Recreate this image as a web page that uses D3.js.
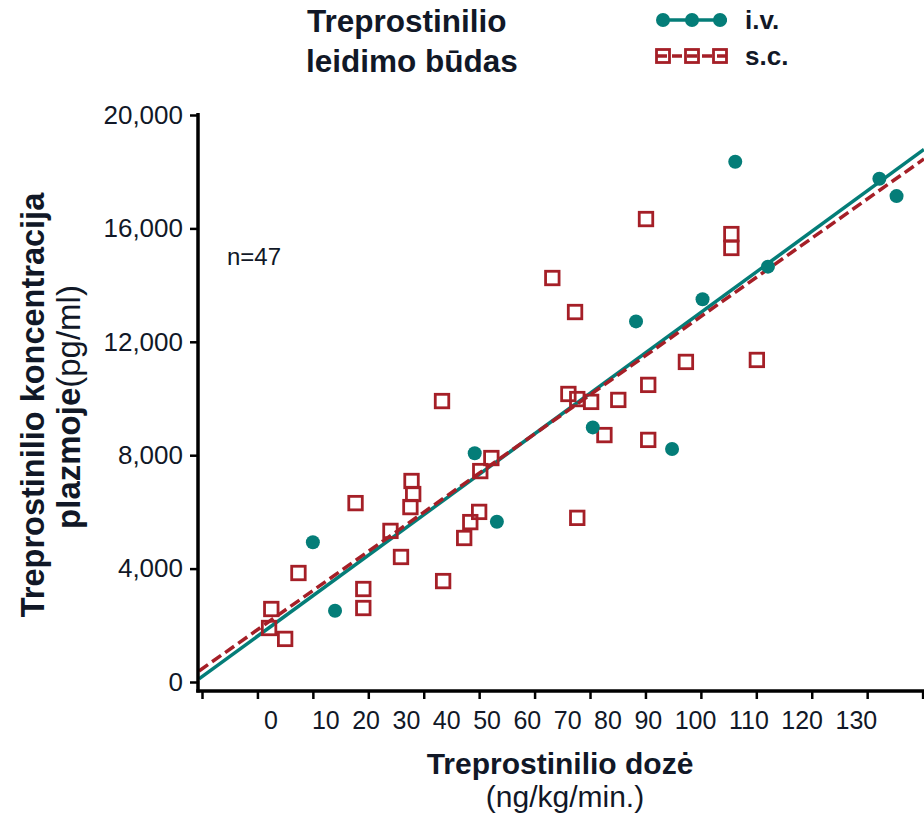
<!DOCTYPE html>
<html>
<head>
<meta charset="utf-8">
<script src="https://cdn.jsdelivr.net/npm/d3@7"></script>
<style>
  body { margin: 0; background: #fff; }
  svg { font-family: "Liberation Sans", Arial, sans-serif; }
</style>
</head>
<body>
<div id="chart"></div>
<script>
// data: dose (ng/kg/min) and plasma concentration (pg/ml)
var ivDose = [20.0, 24.0, 49.2, 53.2, 70.5, 78.3, 84.8, 90.3, 96.2, 102.1, 122.2, 125.3];
var ivConc = [4930, 2515, 8070, 5650, 8980, 12720, 8220, 13500, 18350, 14650, 17750, 17140];

var scDose = [12.5, 12.1, 15.0, 17.4, 27.7, 29.1, 29.1, 34.0, 35.9, 37.6, 37.8, 38.1, 43.3, 43.5, 47.3, 48.4, 50.0,
              50.2, 52.2, 63.2, 67.3, 66.1, 67.7, 70.2, 72.6, 75.1, 80.5, 80.5, 80.1, 87.3, 95.5, 95.5, 100.1, 67.7];
var scConc = [2575, 1905, 1520, 3845, 6310, 3280, 2610, 5330, 4410, 6170, 7090, 6630, 9910, 3560, 5080, 5640, 6000,
              7440, 7900, 14250, 13050, 10160, 9980, 9880, 8710, 9950, 10480, 8540, 16330, 11290, 15800, 15310, 11360, 5790];

// fitted lines [intercept, slope]
var ivFit = [185, 142.8];
var scFit = [462, 138.1];

var xTickValues = [0, 10, 20, 30, 40, 50, 60, 70, 80, 90, 100, 110, 120, 130];
var xTickLabels = ["0", "10", "20", "30", "40", "50", "60", "70", "80", "90", "100", "110", "120", "130"];
var yTickValues = [0, 4000, 8000, 12000, 16000, 20000];

var teal = "#047d78", red = "#a51f27", ink = "#111827";

var width = 924, height = 818;
var axisX = 198, axisY = 691;

var svg = d3.select("#chart").append("svg")
  .attr("width", width)
  .attr("height", height);

var x = d3.scaleLinear().domain([0, 130]).range([202, 922.6]);
var y = d3.scaleLinear().domain([0, 20000]).range([682, 115]);

// regression lines
var xs = [x.invert(axisX + 1), x.invert(width)];
var line = d3.line().x(d => x(d[0])).y(d => y(d[1]));

svg.append("path")
  .datum(xs.map(v => [v, ivFit[0] + ivFit[1] * v]))
  .attr("d", line)
  .attr("fill", "none")
  .attr("stroke", teal)
  .attr("stroke-width", 3.5);

svg.append("path")
  .datum(xs.map(v => [v, scFit[0] + scFit[1] * v]))
  .attr("d", line)
  .attr("fill", "none")
  .attr("stroke", red)
  .attr("stroke-width", 3.5)
  .attr("stroke-dasharray", "11,5");

// points
var sq = 13.5;
svg.selectAll(".sc")
  .data(scDose.map((d, i) => [d, scConc[i]]))
  .enter()
  .append("rect")
  .attr("class", "sc")
  .attr("x", d => x(d[0]) - sq / 2)
  .attr("y", d => y(d[1]) - sq / 2)
  .attr("width", sq)
  .attr("height", sq)
  .attr("fill", "none")
  .attr("stroke", red)
  .attr("stroke-width", 2.8);

svg.selectAll(".iv")
  .data(ivDose.map((d, i) => [d, ivConc[i]]))
  .enter()
  .append("circle")
  .attr("class", "iv")
  .attr("cx", d => x(d[0]))
  .attr("cy", d => y(d[1]))
  .attr("r", 7)
  .attr("fill", teal);

// y axis
var yAxis = svg.append("g")
  .attr("transform", "translate(" + axisX + ",0)")
  .call(d3.axisLeft(y).tickValues(yTickValues).tickFormat(d3.format(",")).tickSize(8).tickPadding(7));
yAxis.select(".domain").remove();
yAxis.selectAll(".tick line").attr("stroke", "#000").attr("stroke-width", 2.5);
yAxis.selectAll(".tick text").attr("fill", ink).style("font-size", "26px");

// x axis, ticks only; labels laid out as one row below
var xAxis = svg.append("g")
  .attr("transform", "translate(0," + axisY + ")")
  .call(d3.axisBottom(x).tickValues(xTickValues).tickFormat("").tickSize(8));
xAxis.select(".domain").remove();
xAxis.selectAll(".tick line").attr("stroke", "#000").attr("stroke-width", 2.5);

svg.append("line")
  .attr("x1", axisX).attr("x2", axisX)
  .attr("y1", y(20000) - 2).attr("y2", axisY + 1.5)
  .attr("stroke", "#000").attr("stroke-width", 3.5);
svg.append("line")
  .attr("x1", axisX - 1.75).attr("x2", width)
  .attr("y1", axisY).attr("y2", axisY)
  .attr("stroke", "#000").attr("stroke-width", 3.5);

var labelRow = svg.append("g").style("font-size", "25px").attr("fill", ink);
var cursor = 264;
xTickLabels.forEach(function (lab, i) {
  var t = labelRow.append("text").attr("x", cursor).attr("y", 729).text(lab);
  cursor += t.node().getComputedTextLength() + (i === 0 ? 34 : 12.5);
});

// axis titles
svg.append("text")
  .attr("x", 560).attr("y", 774)
  .attr("text-anchor", "middle")
  .attr("fill", ink)
  .style("font-size", "30px").style("font-weight", "bold")
  .text("Treprostinilio dozė");
svg.append("text")
  .attr("x", 565).attr("y", 807)
  .attr("text-anchor", "middle")
  .attr("fill", ink)
  .style("font-size", "30px")
  .text("(ng/kg/min.)");

svg.append("text")
  .attr("transform", "translate(44,405) rotate(-90)")
  .attr("text-anchor", "middle")
  .attr("fill", ink)
  .style("font-size", "32.5px").style("font-weight", "bold")
  .text("Treprostinilio koncentracija");
var yt2 = svg.append("text")
  .attr("transform", "translate(80,407) rotate(-90)")
  .attr("text-anchor", "middle")
  .attr("fill", ink)
  .style("font-size", "33px");
yt2.append("tspan").style("font-weight", "bold").text("plazmoje");
yt2.append("tspan").style("font-size", "33px").text("(pg/ml)");

svg.append("text")
  .attr("x", 227).attr("y", 265)
  .attr("fill", ink)
  .style("font-size", "24px")
  .text("n=47");

// legend
svg.append("text")
  .attr("x", 307).attr("y", 32)
  .attr("fill", ink)
  .style("font-size", "31.5px").style("font-weight", "bold")
  .text("Treprostinilio");
svg.append("text")
  .attr("x", 306).attr("y", 72)
  .attr("fill", ink)
  .style("font-size", "31.5px").style("font-weight", "bold")
  .text("leidimo būdas");

var legendX = [663, 692, 720];
var lg1 = svg.append("g").attr("transform", "translate(0,20)");
lg1.append("line").attr("x1", 657).attr("x2", 727)
  .attr("stroke", teal).attr("stroke-width", 3.5);
lg1.selectAll("circle").data(legendX).enter().append("circle")
  .attr("cx", d => d).attr("r", 7).attr("fill", teal);
lg1.append("text").attr("x", 745).attr("y", 9)
  .attr("fill", ink).style("font-size", "26px").style("font-weight", "bold").text("i.v.");

var lg2 = svg.append("g").attr("transform", "translate(0,56)");
lg2.append("line").attr("x1", 657).attr("x2", 727)
  .attr("stroke", red).attr("stroke-width", 3.5).attr("stroke-dasharray", "10,5");
lg2.selectAll("rect").data(legendX).enter().append("rect")
  .attr("x", d => d - 6.5).attr("y", -6.5).attr("width", 13).attr("height", 13)
  .attr("fill", "none").attr("stroke", red).attr("stroke-width", 2.8);
lg2.append("text").attr("x", 745).attr("y", 9)
  .attr("fill", ink).style("font-size", "26px").style("font-weight", "bold").text("s.c.");
</script>
</body>
</html>
